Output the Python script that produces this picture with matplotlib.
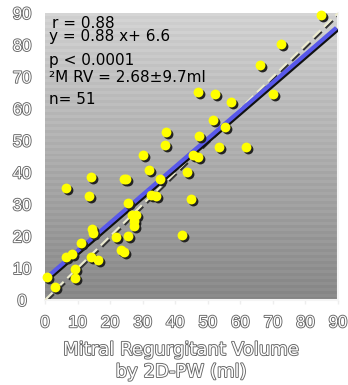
import matplotlib
matplotlib.use("Agg")
import matplotlib.pyplot as plt
import matplotlib.patheffects as pe
from matplotlib.transforms import offset_copy
import numpy as np

# MRV by 2D-PW (x) vs. MRV by new method (y)
x_pw = [0.5, 3.0, 6.5, 14.2, 13.4, 24.3, 25.0, 30.2, 31.8, 37.1,
        36.8, 25.4, 35.4, 32.6, 34.1, 26.6, 28.1, 27.3, 27.3, 14.3,
        14.6, 11.1, 6.4, 8.2, 9.1, 9.1, 14.0, 16.4, 21.8, 25.6,
        23.4, 24.3, 47.1, 52.3, 57.2, 51.5, 47.3, 55.3, 53.5, 61.6,
        45.4, 47.1, 43.6, 44.7, 42.2, 84.9, 72.6, 66.0, 69.9]
y_new = [7.3, 4.0, 35.0, 38.7, 32.6, 37.9, 38.1, 45.5, 40.8, 52.8,
         48.6, 30.4, 37.8, 32.8, 32.7, 26.5, 26.6, 24.9, 23.2, 22.2,
         21.0, 17.8, 13.4, 14.3, 9.7, 6.9, 13.4, 12.5, 19.7, 20.2,
         15.7, 15.0, 65.2, 64.7, 62.2, 56.5, 51.5, 54.3, 47.9, 48.1,
         45.4, 44.8, 40.1, 31.6, 20.3, 89.4, 80.3, 73.8, 64.6]

slope = 0.88
intercept = 6.6
ticks = [0, 10, 20, 30, 40, 50, 60, 70, 80, 90]
stats_lines = ["r = 0.88", "y = 0.88 x+ 6.6", "p < 0.0001",
               "\u00b2M RV = 2.68\u00b19.7ml", "n= 51"]

fig = plt.figure(figsize=(3.48, 3.85), dpi=100)
fig.patch.set_facecolor("white")
ax = fig.add_axes([45 / 348, 85 / 385, 293 / 348, 287 / 385])
ax.set_xlim(0, 90)
ax.set_ylim(0, 90)

# gray gradient background with faint horizontal stripes
rows = 96
shade = np.linspace(0.81, 0.52, rows)
shade[::2] += 0.025
bg = np.repeat(shade[:, None], 2, axis=1)
ax.imshow(bg, cmap="gray", vmin=0, vmax=1, extent=[0, 90, 0, 90],
          aspect="auto", origin="upper", zorder=0, interpolation="nearest")

shadow = offset_copy(ax.transData, fig=fig, x=2, y=-2, units="dots")
shadow_small = offset_copy(ax.transData, fig=fig, x=1.5, y=-1.5, units="dots")

# identity line (dashed)
ax.plot([0, 90], [0, 90], color="#333333", lw=1.5, dashes=(5, 2.5),
        transform=shadow_small, zorder=2)
ax.plot([0, 90], [0, 90], color="#ecebcf", lw=1.5, dashes=(5, 2.5), zorder=3)

# regression line
xr = np.array([0, 89.5])
ax.plot(xr, slope * xr + intercept, color="#111111", lw=3, transform=shadow_small,
        zorder=4, solid_capstyle="butt")
ax.plot(xr, slope * xr + intercept, color="#5858ea", lw=3, zorder=5,
        solid_capstyle="butt")

# points with drop shadow
ax.scatter(x_pw, y_new, s=50, color="#222222", transform=shadow, zorder=6,
           linewidths=0, clip_on=False)
ax.scatter(x_pw, y_new, s=50, color="#ffff00", zorder=7, linewidths=0,
           clip_on=False)

for sp in ["top", "left"]:
    ax.spines[sp].set_visible(False)
for sp in ["right", "bottom"]:
    ax.spines[sp].set_color("#f4f4f4")
    ax.spines[sp].set_linewidth(1.5)

emboss = [pe.withStroke(linewidth=1.3, foreground="#666666")]
ax.set_xticks(ticks)
ax.set_yticks(ticks)
ax.tick_params(axis="x", length=3, color="#eeeeee", width=1, pad=8)
ax.tick_params(axis="y", length=0, pad=16.5)
for lab in ax.get_xticklabels() + ax.get_yticklabels():
    lab.set_fontsize(12)
    lab.set_family("Liberation Sans")
    lab.set_color("white")
    lab.set_path_effects(emboss)
for lab in ax.get_yticklabels():
    lab.set_horizontalalignment("center")

ys = [23, 37, 61, 78, 99]
xs = [52, 49, 49, 49, 49]
for txt, yy, xx in zip(stats_lines, ys, xs):
    fig.text(xx / 348, 1 - yy / 385, txt, fontsize=11, color="black",
             va="center", ha="left", family="DejaVu Sans")

fig.text(181 / 348, 1 - 350 / 385, "Mitral Regurgitant Volume", fontsize=13,
         color="white", ha="center", va="center", family="DejaVu Sans",
         path_effects=emboss)
fig.text(181 / 348, 1 - 372 / 385, "by 2D-PW (ml)", fontsize=13,
         color="white", ha="center", va="center", family="DejaVu Sans",
         path_effects=emboss)

fig.savefig("out.png", dpi=100)
